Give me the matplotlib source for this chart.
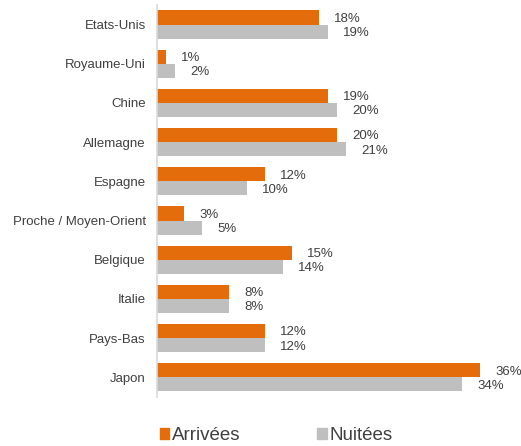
import matplotlib
matplotlib.use("Agg")
import matplotlib.pyplot as plt
import numpy as np
from matplotlib.patches import Patch

plt.rcParams["font.family"] = ["Liberation Sans", "DejaVu Sans"]

# données
pays = ["Etats-Unis", "Royaume-Uni", "Chine", "Allemagne", "Espagne",
        "Proche / Moyen-Orient", "Belgique", "Italie", "Pays-Bas", "Japon"]
arrivees = [18, 1, 19, 20, 12, 3, 15, 8, 12, 36]
nuitees = [19, 2, 20, 21, 10, 5, 14, 8, 12, 34]

orange = "#E46C0A"
gris = "#BFBFBF"
txt = "#404040"

fig = plt.figure(figsize=(5.21, 4.46), dpi=100)
ax = fig.add_axes([0.301, 0.110, 0.69, 0.879])

y = np.arange(len(pays))
h = 0.36
ax.barh(y - h/2, arrivees, height=h, color=orange)
ax.barh(y + h/2, nuitees, height=h, color=gris)

for i in range(len(pays)):
    ax.annotate(f"{arrivees[i]}%", (arrivees[i], y[i] - h/2), xytext=(11, -1),
                textcoords="offset points", va="center", ha="left", fontsize=9.5, color=txt)
    ax.annotate(f"{nuitees[i]}%", (nuitees[i], y[i] + h/2), xytext=(11, -1),
                textcoords="offset points", va="center", ha="left", fontsize=9.5, color=txt)

ax.set_ylim(len(pays) - 0.5, -0.5)
ax.set_xlim(0, 40)
ax.set_yticks(y)
ax.set_yticklabels(pays, fontsize=9.5, color=txt)
ax.tick_params(axis="y", length=0, pad=8)
ax.set_xticks([])
for s in ["top", "right", "bottom"]:
    ax.spines[s].set_visible(False)
ax.spines["left"].set_color("#D9D9D9")
ax.spines["left"].set_linewidth(1.2)

handles = [Patch(color=orange, label="Arrivées"), Patch(color=gris, label="Nuitées")]
fig.legend(handles=handles, loc="lower left", bbox_to_anchor=(0.274, -0.034), ncol=2,
           frameon=False, fontsize=13.5, handlelength=0.5, handleheight=0.5,
           handletextpad=0.15, columnspacing=4.1, labelcolor=txt)

fig.savefig("out.png", dpi=100)
